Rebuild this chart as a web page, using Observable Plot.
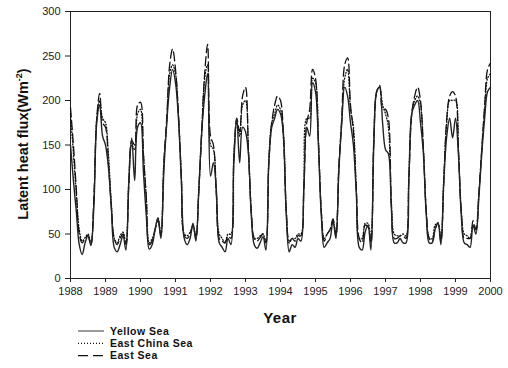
<!DOCTYPE html>
<html><head><meta charset="utf-8">
<script src="https://cdn.jsdelivr.net/npm/d3@7"></script>
<script src="https://cdn.jsdelivr.net/npm/@observablehq/plot@0.6"></script>
<style>body{margin:0;background:#fff;font-family:"Liberation Sans",Arial,sans-serif}</style>
</head><body><div id="chart"></div><script>
const startYear = 1988;
const yearTicks = [1988,1989,1990,1991,1992,1993,1994,1995,1996,1997,1998,1999,2000];
const valueTicks = [0,50,100,150,200,250,300];
const seriesNames = ["Yellow Sea","East China Sea","East Sea"];

// monthly values, Jan 1988 .. Jan 2000
const yellowSea = [
 150,110,75,38,27,40,48,37,80,175,195,160,
 150,125,80,35,30,38,48,32,110,158,110,170,
 175,120,70,33,38,55,68,45,120,175,215,235,
 220,180,110,45,38,45,62,42,100,165,205,230,
 115,130,100,40,35,30,45,38,130,180,130,170,
 165,140,70,38,34,40,47,32,130,170,180,190,
 185,160,70,30,38,35,45,42,100,170,160,220,
 210,150,70,35,40,45,65,45,120,175,215,205,
 175,150,95,35,32,52,60,32,150,210,215,175,
 145,140,80,40,40,45,40,40,110,185,195,200,
 175,140,70,40,40,55,63,38,110,160,180,158,
 180,140,70,40,38,35,60,50,90,140,180,210,
 215];
const eastChinaSea = [
 185,140,95,55,42,46,50,40,85,180,200,180,
 175,140,85,45,40,48,52,40,110,150,145,185,
 190,140,90,40,45,55,68,50,130,175,230,240,
 230,185,115,50,48,52,60,48,100,165,225,240,
 150,145,95,50,45,40,50,50,140,175,160,195,
 200,145,75,45,45,48,50,42,135,175,185,195,
 190,165,75,40,45,45,50,50,105,180,180,225,
 220,155,75,45,50,55,65,50,125,175,225,235,
 190,170,100,45,45,62,62,45,160,210,215,195,
 185,170,85,50,48,48,50,48,115,185,200,205,
 195,145,75,45,45,60,62,45,115,175,200,200,
 200,145,75,50,48,45,60,55,95,145,190,225,
 230];
const eastSea = [
 192,150,100,50,40,45,48,38,90,180,208,175,
 170,130,80,45,38,45,50,38,105,155,150,195,
 198,140,90,38,42,55,65,48,130,180,240,258,
 235,185,115,48,45,50,60,45,100,165,230,263,
 160,150,95,45,42,40,48,45,135,180,165,205,
 215,145,75,45,42,46,50,40,130,175,195,205,
 200,160,75,42,45,42,48,48,100,175,190,235,
 225,155,75,42,50,55,67,48,125,180,240,248,
 195,165,100,45,40,60,58,40,155,210,217,190,
 190,180,85,45,45,48,48,45,110,185,205,215,
 200,145,75,45,42,55,62,42,110,180,205,210,
 205,145,75,45,45,45,65,55,95,145,195,235,
 242];

const toRows = (vals) => vals.map((v, i) => ({t: startYear + i / 12, v}));
const ys = toRows(yellowSea), ecs = toRows(eastChinaSea), es = toRows(eastSea);

const plot = Plot.plot({
  width: 508, height: 368,
  marginTop: 11, marginLeft: 70, marginRight: 18, marginBottom: 90,
  style: {fontFamily: "Liberation Sans, Arial, sans-serif", fontSize: "11px", color: "#222", background: "#fff"},
  x: {type: "linear", domain: [1988, 2000], ticks: yearTicks, tickFormat: d => String(d), label: null, tickSize: 4, tickPadding: 5},
  y: {domain: [0, 300], ticks: valueTicks, label: null, tickSize: 5, tickPadding: 5},
  marks: [
    Plot.frame({stroke: "#222", strokeWidth: 1}),
    Plot.line(es, {x: "t", y: "v", stroke: "#111", strokeWidth: 1.3, strokeDasharray: "9,4", curve: "catmull-rom"}),
    Plot.line(ecs, {x: "t", y: "v", stroke: "#111", strokeWidth: 1.3, strokeDasharray: "1,2", curve: "catmull-rom"}),
    Plot.line(ys, {x: "t", y: "v", stroke: "#222", strokeWidth: 1.4, curve: "catmull-rom"})
  ]
});
document.getElementById("chart").appendChild(plot);

const svg = d3.select(plot);
// y label
const yl = svg.append("text")
  .attr("transform", "translate(28,144) rotate(-90)")
  .attr("text-anchor", "middle")
  .attr("font-weight", "bold").attr("font-size", "14.5px").attr("fill", "#111")
  .attr("font-family", "Liberation Sans, Arial, sans-serif");
yl.append("tspan").text("Latent heat flux(Wm");
yl.append("tspan").attr("font-size", "9px").attr("dy", "-6").text("-2");
yl.append("tspan").attr("dy", "6").text(")");
// x label
svg.append("text").attr("x", 280).attr("y", 323).attr("text-anchor", "middle")
  .attr("font-weight", "bold").attr("font-size", "15px").attr("letter-spacing", "0.5px").attr("fill", "#111")
  .attr("font-family", "Liberation Sans, Arial, sans-serif").text("Year");
// legend
const legendStyles = [
  {stroke: "#666", dash: null, w: 1.3},
  {stroke: "#111", dash: "1,2", w: 1.2},
  {stroke: "#111", dash: "10,5", w: 1.2}
];
seriesNames.forEach((name, k) => {
  const y = 331 + k * 12.3;
  const st = legendStyles[k];
  const ln = svg.append("line").attr("x1", 78).attr("x2", 104).attr("y1", y).attr("y2", y)
    .attr("stroke", st.stroke).attr("stroke-width", st.w);
  if (st.dash) ln.attr("stroke-dasharray", st.dash);
  svg.append("text").attr("x", 110).attr("y", y + 3.7).attr("text-anchor", "start")
    .attr("font-weight", "bold").attr("font-size", "10.5px").attr("letter-spacing", "0.5px").attr("fill", "#111")
    .attr("font-family", "Liberation Sans, Arial, sans-serif").text(name);
});
</script></body></html>
